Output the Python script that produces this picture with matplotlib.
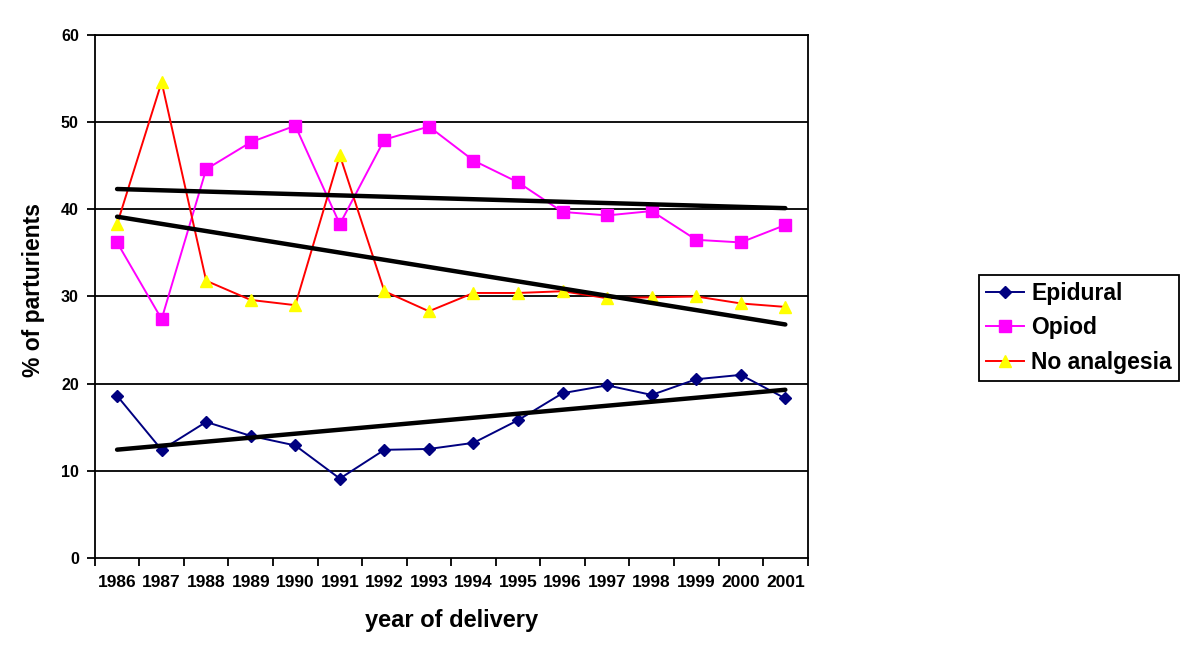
import numpy as np
import matplotlib.pyplot as plt

plt.rcParams['font.family'] = ['Liberation Sans', 'DejaVu Sans']

years = ["1986", "1987", "1988", "1989", "1990", "1991", "1992", "1993",
         "1994", "1995", "1996", "1997", "1998", "1999", "2000", "2001"]
epidural = [18.6, 12.4, 15.6, 14.0, 12.9, 9.1, 12.4, 12.5,
            13.2, 15.8, 18.9, 19.8, 18.7, 20.5, 21.0, 18.3]
opioid = [36.2, 27.4, 44.6, 47.7, 49.6, 38.3, 48.0, 49.5,
          45.6, 43.1, 39.7, 39.3, 39.8, 36.5, 36.2, 38.2]
no_analgesia = [38.3, 54.6, 31.8, 29.6, 29.0, 46.2, 30.6, 28.3,
                30.4, 30.4, 30.6, 29.8, 29.9, 30.0, 29.2, 28.8]

x = np.arange(len(years))

fig = plt.figure(figsize=(12, 6.61), dpi=100)
ax = fig.add_axes([0.079, 0.156, 0.594, 0.791])

for y in range(10, 61, 10):
    ax.axhline(y, color='black', lw=1.3, zorder=1)

ax.plot(x, epidural, color='#000080', lw=1.4, marker='D', ms=6.5,
        mfc='#000080', mec='#000080', label='Epidural', zorder=3)
ax.plot(x, opioid, color='#FF00FF', lw=1.4, marker='s', ms=8.5,
        mfc='#FF00FF', mec='#FF00FF', label='Opiod', zorder=3)
ax.plot(x, no_analgesia, color='#FF0000', lw=1.4, marker='^', ms=9,
        mfc='#FFFF00', mec='#FFFF00', label='No analgesia', zorder=3)

# linear trend lines
for series in (epidural, opioid, no_analgesia):
    k, b = np.polyfit(x, series, 1)
    ax.plot(x, k * x + b, color='black', lw=3.2, zorder=4,
            solid_capstyle='round')

ax.set_xlim(-0.5, len(years) - 0.5)
ax.set_ylim(0, 60)
ax.set_yticks(range(0, 61, 10))
ax.set_xticks(x)
ax.set_xticklabels(years)
ax.set_xticks(np.arange(-0.5, len(years)), minor=True)
ax.tick_params(axis='x', which='major', length=0, pad=12)
ax.tick_params(axis='x', which='minor', length=5.5, width=1.3, direction='out')
ax.tick_params(axis='y', length=5.5, width=1.3, direction='out', pad=6)
for lab in ax.get_xticklabels():
    lab.set_fontweight('bold')
    lab.set_fontsize(12.5)
for lab in ax.get_yticklabels():
    lab.set_fontweight('bold')
    lab.set_fontsize(11.5)

for s in ax.spines.values():
    s.set_linewidth(1.3)
    s.set_color('black')

ax.set_ylabel('% of parturients', fontsize=16.5, fontweight='bold')
ax.yaxis.set_label_coords(-0.070, 0.512)
ax.set_xlabel('year of delivery', fontsize=17, fontweight='bold', labelpad=14)

leg = fig.legend(loc='center left', bbox_to_anchor=(0.806, 0.504),
                 prop={'weight': 'bold', 'size': 16.5}, fancybox=False,
                 edgecolor='black', framealpha=1, borderpad=0.3,
                 handlelength=1.7, handletextpad=0.3, labelspacing=0.5)
leg.get_frame().set_linewidth(1.3)

fig.savefig('out.png', dpi=100)
